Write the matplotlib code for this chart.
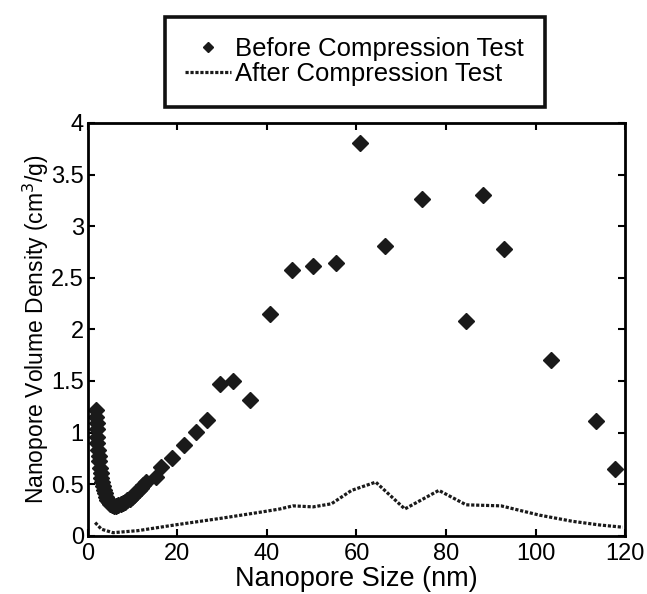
import numpy as np
import matplotlib
matplotlib.use("Agg")
import matplotlib.pyplot as plt

plt.rcParams['font.family'] = ['Liberation Sans', 'DejaVu Sans']

# before compression test (diamonds)
before_x = [1.8, 1.9, 1.95, 2.0, 2.05, 2.1, 2.2, 2.35, 2.5, 2.65, 2.8, 3.0, 3.2,
            3.4, 3.6, 3.8, 4.0, 4.3, 4.6, 5.0, 5.4, 5.8, 6.3, 6.8, 7.3, 7.8, 8.3,
            8.8, 9.3, 9.8, 10.3, 10.8, 11.3, 11.8, 12.4, 13.0, 15.3, 16.4, 18.7,
            21.5, 24.1, 26.6, 29.5, 32.3, 36.3, 40.6, 45.5, 50.2, 55.4, 60.7,
            66.4, 74.7, 84.4, 88.2, 92.9, 103.5, 113.5, 117.8]
before_y = [1.22, 1.15, 1.09, 1.03, 0.96, 0.90, 0.83, 0.77, 0.72, 0.66, 0.61,
            0.56, 0.52, 0.48, 0.44, 0.41, 0.38, 0.35, 0.33, 0.31, 0.30, 0.29,
            0.29, 0.30, 0.31, 0.32, 0.33, 0.35, 0.36, 0.38, 0.40, 0.42, 0.44,
            0.46, 0.49, 0.52, 0.57, 0.67, 0.75, 0.88, 1.01, 1.12, 1.47, 1.50,
            1.32, 2.15, 2.58, 2.61, 2.64, 3.81, 2.81, 3.26, 2.08, 3.30, 2.78,
            1.70, 1.11, 0.65]

# after compression test (dotted line)
after_x = [1.6, 3.0, 5.6, 11.2, 19.4, 29.8, 38.7, 42.9, 45.8, 50.3, 54.4, 58.9,
           64.3, 70.8, 78.4, 84.5, 92.3, 100.9, 108.3, 114.3, 119.5]
after_y = [0.128, 0.064, 0.03, 0.05, 0.105, 0.17, 0.23, 0.26, 0.29, 0.28, 0.31,
           0.44, 0.52, 0.26, 0.44, 0.30, 0.29, 0.20, 0.14, 0.105, 0.083]

xticks = [0, 20, 40, 60, 80, 100, 120]
yticks = [0, 0.5, 1, 1.5, 2, 2.5, 3, 3.5, 4]
ytick_labels = ['0', '0.5', '1', '1.5', '2', '2.5', '3', '3.5', '4']

fig = plt.figure(figsize=(6.47, 5.94), dpi=100)
ax = fig.add_axes([0.136, 0.098, 0.830, 0.695])

ax.plot(before_x, before_y, linestyle='none', marker='D', markersize=8.5,
        color='#1a1a1a', label='Before Compression Test')
ax.plot(after_x, after_y, linestyle=(0, (1, 0.55)), linewidth=2.3,
        color='#1a1a1a', label='After Compression Test')

ax.set_xlim(0, 120)
ax.set_ylim(0, 4)
ax.set_xticks(xticks)
ax.set_yticks(yticks)
ax.set_yticklabels(ytick_labels)
ax.tick_params(direction='in', top=True, right=True, length=5, width=1.5,
               labelsize=17)
ax.tick_params(axis='x', pad=5)
ax.tick_params(axis='y', pad=3)
for s in ax.spines.values():
    s.set_linewidth(2)

ax.set_xlabel('Nanopore Size (nm)', fontsize=19.5, labelpad=1)
ax.set_ylabel('Nanopore Volume Density (cm$^3$/g)', fontsize=16.5, labelpad=0)

leg = fig.legend(loc='center', bbox_to_anchor=(0.548, 0.896), fontsize=18.5,
                 frameon=True, fancybox=False, framealpha=1,
                 handlelength=1.8, handletextpad=0.15, borderpad=0.8,
                 borderaxespad=0, labelspacing=0.05, markerscale=0.65)
leg.get_frame().set_edgecolor('#111111')
leg.get_frame().set_linewidth(2.6)

fig.savefig('out.png', dpi=100)
